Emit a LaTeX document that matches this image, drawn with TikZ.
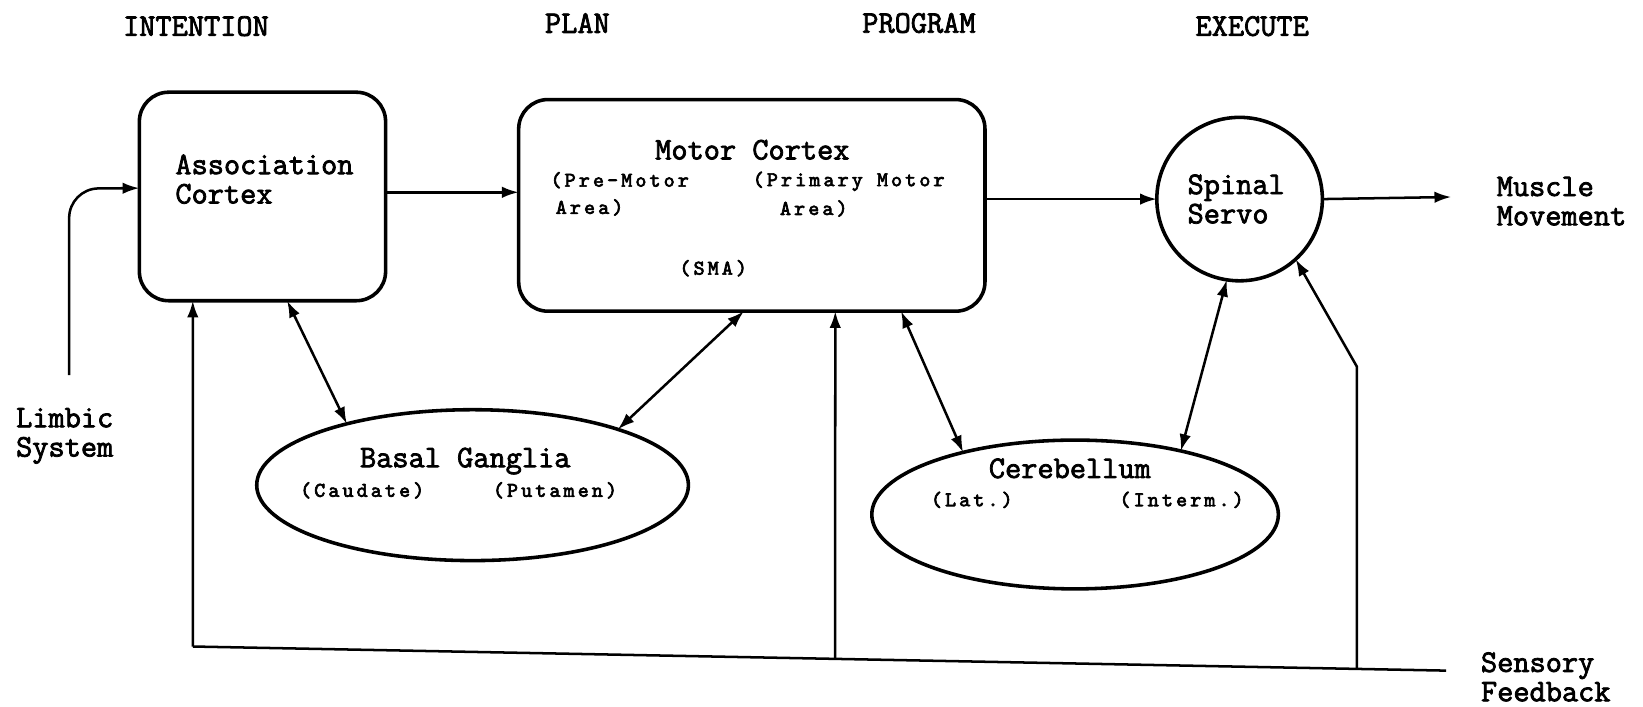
\documentclass[tikz,border=0pt]{standalone}
\usepackage{fontspec}
\newfontfamily\lmmono{Latin Modern Mono}[FakeBold=2.4]
\newfontfamily\lmsmall{Latin Modern Mono}[FakeBold=3.2,LetterSpace=15]
\usetikzlibrary{arrows.meta,shapes.geometric,calc}
\tikzset{
  lbl/.style={font=\lmmono\fontsize{15}{14}\selectfont, inner sep=0pt, align=left},
  sub/.style={font=\lmsmall\fontsize{10}{10}\selectfont, inner sep=0pt},
  blk/.style={draw, line width=1.7pt, rounded corners=14pt, inner sep=0pt, outer sep=0pt},
  oval/.style={draw, ellipse, line width=1.7pt, inner sep=0pt, outer sep=0pt},
  conn/.style={line width=1.2pt, -{Latex[length=8pt,width=5.5pt]}},
  biconn/.style={line width=1.2pt, {Latex[length=8pt,width=5.5pt]}-{Latex[length=8pt,width=5.5pt]}},
  plainline/.style={line width=1.2pt},
}
\begin{document}
\begin{tikzpicture}[x=0.5pt,y=-0.5pt]
\useasboundingbox (0,0) rectangle (1568,674);

% headers
\node[lbl] (hint) at (187,25) {INTENTION};
\node[lbl] (hplan) at (551,22) {PLAN};
\node[lbl] (hprog) at (877,22) {PROGRAM};
\node[lbl] (hexec) at (1195,25) {EXECUTE};

% blocks
\node[blk, minimum width=117.5pt, minimum height=99.5pt] (assoc) at (250.5,187.5) {};
\node[blk, minimum width=222.5pt, minimum height=101pt] (motor) at (717.5,196) {};
\node[oval, minimum width=79pt, minimum height=78pt] (spinal) at (1183,190) {};
\node[oval, minimum width=206pt, minimum height=72pt] (basal) at (451,463) {};
\node[oval, minimum width=194pt, minimum height=71pt] (cereb) at (1026,491) {};

% texts
\node[lbl, anchor=west] (tassoc) at (167,171) {Association\\Cortex};
\node[lbl] (tmotor) at (718,143) {Motor Cortex};
\node[sub, anchor=west] (tpre) at (525,172) {(Pre-Motor};
\node[sub, anchor=west] (tprea) at (530,198) {Area)};
\node[sub, anchor=west] (tprim) at (718,173) {(Primary Motor};
\node[sub, anchor=west] (tprima) at (744,199) {Area)};
\node[sub, anchor=west] (tsma) at (648,256) {(SMA)};
\node[lbl, anchor=west] (tspinal) at (1133,190) {Spinal\\Servo};
\node[lbl, anchor=west] (tmuscle) at (1428,192) {Muscle\\Movement};
\node[lbl, anchor=west] (tlimbic) at (15,416) {Limbic\\System};
\node[lbl] (tbasal) at (444,440) {Basal Ganglia};
\node[sub, anchor=west] (tcaud) at (286,468) {(Caudate)};
\node[sub, anchor=west] (tput) at (470,468) {(Putamen)};
\node[lbl] (tcereb) at (1021,447) {Cerebellum};
\node[sub, anchor=west] (tlat) at (888,477) {(Lat.)};
\node[sub, anchor=west] (tint) at (1068,477) {(Interm.)};
\node[lbl, anchor=west] (tsens) at (1413,646) {Sensory\\Feedback};

% coordinates
\coordinate (limb0) at (66,358);
\coordinate (mus) at (1385,188);
\coordinate (sfL) at (184,617);
\coordinate (sfM) at (797,629);
\coordinate (sfR) at (1295,638.4);
\coordinate (sfE) at (1380,640);
\coordinate (kink) at (1295,350);
\coordinate (aout) at ($(assoc.north east)!0.48!(assoc.south east)$);

% main flow
\draw[conn, rounded corners=14pt] (limb0) -- (66,180) -- ($(assoc.north west)!0.46!(assoc.south west)$);
\draw[conn] (aout) -- (motor.west |- aout);
\draw[conn] (motor.east |- spinal.west) -- (spinal.west);
\draw[conn] (spinal.east) -- (mus);

% bidirectional
\draw[biconn] ($(assoc.south west)!0.60!(assoc.south east)$) -- (basal.154);
\draw[biconn] ($(motor.south west)!0.483!(motor.south east)$) -- (basal.21);
\draw[biconn] ($(motor.south west)!0.82!(motor.south east)$) -- (cereb.151);
\draw[biconn] (spinal.-99) -- (cereb.31);

% sensory feedback
\draw[plainline] (sfL) -- (sfE);
\draw[conn] (sfL) -- ($(assoc.south west)!0.217!(assoc.south east)$);
\draw[conn] (sfM) -- ($(motor.south west)!0.679!(motor.south east)$);
\draw[conn] (sfR) -- (kink) -- (spinal.-47);
\end{tikzpicture}
\end{document}
